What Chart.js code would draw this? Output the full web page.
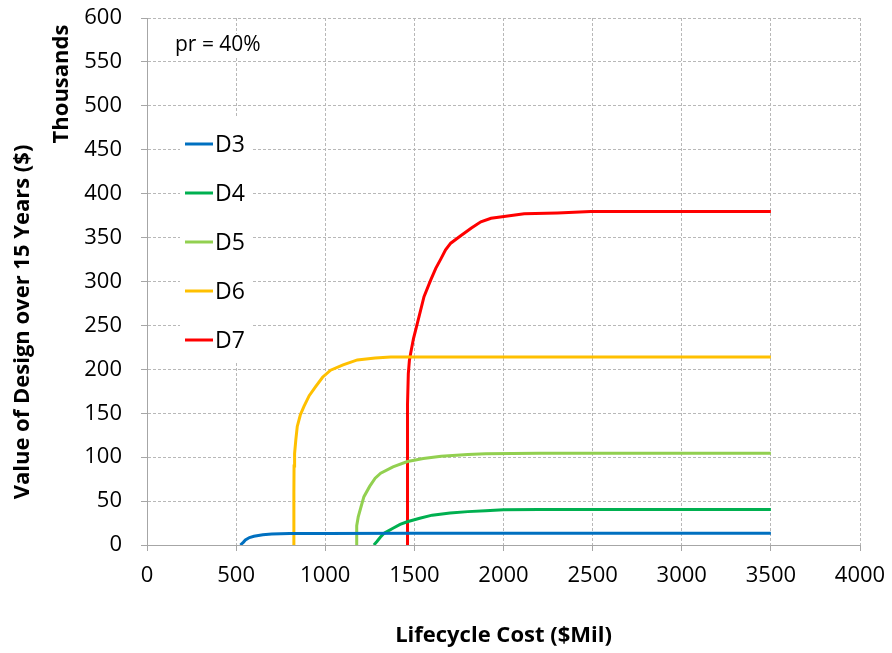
<!DOCTYPE html>
<html>
<head>
<meta charset="utf-8">
<script src="https://cdn.jsdelivr.net/npm/chart.js@4.4.1/dist/chart.umd.min.js"></script>
<style>
  html, body { margin: 0; padding: 0; background: #ffffff; }
  #wrap { width: 892px; height: 653px; }
</style>
</head>
<body>
<div id="wrap"><canvas id="c" width="892" height="653"></canvas></div>
<script>
// Lifecycle cost ($Mil) vs. value of design over 15 years (thousands of $), pr = 40%
const seriesNames = ['D3', 'D4', 'D5', 'D6', 'D7'];
const seriesColors = ['#0070C0', '#00B050', '#92D050', '#FFC000', '#FF0000'];

const d3Cost  = [524, 540, 552, 575, 600, 650, 700, 800, 1000, 1500, 3500];
const d3Value = [0, 3, 5.7, 8.5, 10, 11.6, 12.4, 13, 13.2, 13.3, 13.3];

const d4Cost  = [1273, 1290, 1310, 1330, 1380, 1420, 1460, 1530, 1600, 1700, 1800, 1900, 2000, 2200, 3500];
const d4Value = [0, 4, 9, 13.3, 19, 23.5, 26.5, 30.5, 34, 36.5, 38, 39, 40, 40.5, 40.5];

const d5Cost  = [1174, 1175, 1178, 1185, 1200, 1217, 1250, 1280, 1311, 1380, 1461, 1550, 1650, 1800, 1900, 2200, 3500];
const d5Value = [0, 10, 22, 32, 43, 55, 67, 76, 81.7, 89, 95, 98.5, 101, 103, 104, 104.4, 104.4];

const d6Cost  = [824, 824, 825, 828, 835, 843, 860, 880, 910, 945, 985, 1030, 1100, 1180, 1280, 1367, 3500];
const d6Value = [0, 60, 90, 104, 120, 135, 148, 157.5, 170, 180, 191, 199, 205, 210.7, 213, 214, 214];

const d7Cost  = [1460, 1461, 1462, 1466, 1472, 1479, 1495, 1517, 1554, 1592, 1620, 1648, 1675, 1704, 1760, 1820, 1873, 1930, 2003, 2116, 2303, 2489, 3500];
const d7Value = [0, 100, 160, 195, 210, 218, 235, 252.5, 282.8, 301.8, 315, 325.5, 336, 343.6, 352, 361, 368, 372, 374, 377, 378, 379.6, 379.6];

const costs  = [d3Cost, d4Cost, d5Cost, d6Cost, d7Cost];
const values = [d3Value, d4Value, d5Value, d6Value, d7Value];

const xTitle = 'Lifecycle Cost ($Mil)';
const yTitle = 'Value of Design over 15 Years ($)';
const yUnit = 'Thousands';
const note = 'pr = 40%';

const FONT = '"Open Sans", "Liberation Sans", sans-serif';

const datasets = seriesNames.map((name, i) => ({
  label: name,
  data: costs[i].map((x, k) => ({ x: x, y: values[i][k] })),
  borderColor: seriesColors[i],
  backgroundColor: seriesColors[i],
  borderWidth: 3,
  pointRadius: 0,
  showLine: true,
  tension: 0,
  fill: false
}));

// Titles, unit label, note and in-plot legend
const annotations = {
  id: 'annotations',
  beforeDatasetsDraw(chart) {
    const ctx = chart.ctx;
    ctx.save();
    // white boxes behind the note and the legend
    ctx.fillStyle = '#ffffff';
    ctx.fillRect(172, 34, 96, 22);
    ctx.fillRect(180, 118, 72, 244);
    ctx.restore();
  },
  afterDraw(chart) {
    const ctx = chart.ctx;
    const area = chart.chartArea;
    ctx.save();
    ctx.fillStyle = '#000000';
    ctx.textBaseline = 'middle';

    // note
    ctx.font = '21px ' + FONT;
    ctx.textAlign = 'left';
    ctx.fillText(note, 175, 45);

    // legend
    ctx.font = '23px ' + FONT;
    seriesNames.forEach((name, i) => {
      const y = 144 + i * 49;
      ctx.strokeStyle = seriesColors[i];
      ctx.lineWidth = 3;
      ctx.beginPath();
      ctx.moveTo(185, y);
      ctx.lineTo(213, y);
      ctx.stroke();
      ctx.fillStyle = '#000000';
      ctx.fillText(name, 215, y + 1);
    });

    // x title
    ctx.font = 'bold 22px ' + FONT;
    ctx.textAlign = 'center';
    ctx.fillText(xTitle, (area.left + area.right) / 2, 636);

    // y title and unit label
    ctx.save();
    ctx.translate(23, 322);
    ctx.rotate(-Math.PI / 2);
    ctx.font = 'bold 22px ' + FONT;
    ctx.fillText(yTitle, 0, 0);
    ctx.restore();

    ctx.save();
    ctx.translate(62, 84);
    ctx.rotate(-Math.PI / 2);
    ctx.font = 'bold 22px ' + FONT;
    ctx.fillText(yUnit, 0, 0);
    ctx.restore();

    ctx.restore();
  }
};

const gridStyle = {
  color: '#b8b8b8',
  lineWidth: 1,
  drawTicks: true,
  tickLength: 6,
  tickColor: '#a6a6a6',
  tickBorderDash: []
};
const borderStyle = { display: true, color: '#a6a6a6', width: 1, dash: [3, 2] };

new Chart(document.getElementById('c'), {
  type: 'scatter',
  data: { datasets: datasets },
  plugins: [annotations],
  options: {
    responsive: false,
    animation: false,
    layout: { padding: { top: 18, right: 32, left: 0, bottom: 0 } },
    plugins: {
      legend: { display: false },
      tooltip: { enabled: false }
    },
    scales: {
      x: {
        type: 'linear',
        min: 0,
        max: 4000,
        afterFit(s) { s.height = 108; s.paddingLeft = 0; s.paddingRight = 0; },
        ticks: {
          stepSize: 500,
          padding: 12,
          color: '#000000',
          font: { family: FONT, size: 22 },
          maxRotation: 0,
          callback: (v) => String(v)
        },
        grid: gridStyle,
        border: borderStyle
      },
      y: {
        type: 'linear',
        min: 0,
        max: 600,
        afterFit(s) { s.width = 147; s.paddingTop = 0; s.paddingBottom = 0; },
        ticks: {
          stepSize: 50,
          padding: 19,
          color: '#000000',
          font: { family: FONT, size: 22 },
          callback: (v) => String(v)
        },
        grid: gridStyle,
        border: borderStyle
      }
    }
  }
});
</script>
</body>
</html>
